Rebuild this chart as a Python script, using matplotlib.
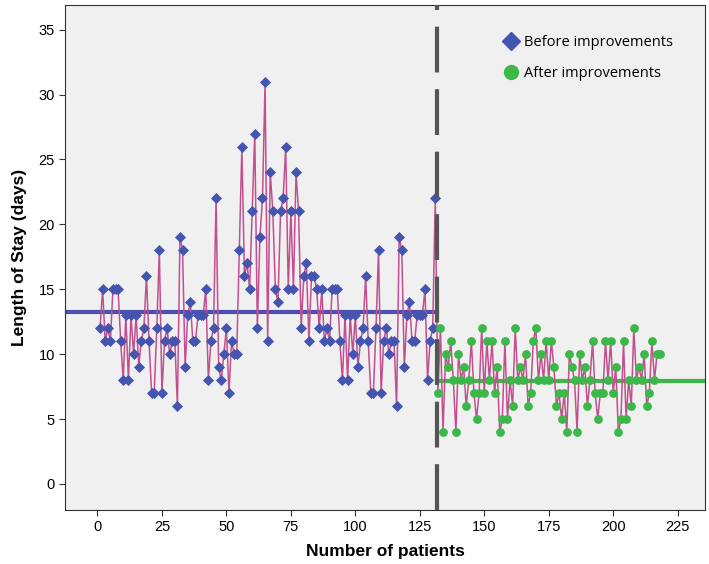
import numpy as np
import matplotlib
matplotlib.use('Agg')
import matplotlib.pyplot as plt
from matplotlib.lines import Line2D

# length of stay per patient
before_los = [12, 15, 11, 12, 11, 15, 15, 15, 11, 8, 13, 8, 13, 10, 13, 9, 11, 12, 16, 11,
              7, 7, 12, 18, 7, 11, 12, 10, 11, 11, 6, 19, 18, 9, 13, 14, 11, 11, 13, 13,
              13, 15, 8, 11, 12, 22, 9, 8, 10, 12, 7, 11, 10, 10, 18, 26, 16, 17, 15, 21,
              27, 12, 19, 22, 31, 11, 24, 21, 15, 14, 21, 22, 26, 15, 21, 15, 24, 21, 12, 16,
              17, 11, 16, 16, 15, 12, 15, 11, 12, 11, 15, 15, 15, 11, 8, 13, 8, 13, 10, 13,
              9, 11, 12, 16, 11, 7, 7, 12, 18, 7, 11, 12, 10, 11, 11, 6, 19, 18, 9, 13,
              14, 11, 11, 13, 13, 13, 15, 8, 11, 12, 22]
after_los = [7, 12, 4, 10, 9, 11, 8, 4, 10, 8, 9, 6, 8, 11, 7, 5, 7, 12, 7, 11,
             8, 11, 7, 9, 4, 5, 11, 5, 8, 6, 12, 8, 9, 8, 10, 6, 7, 11, 12, 8,
             10, 8, 11, 8, 11, 9, 6, 7, 5, 7, 4, 10, 9, 8, 4, 10, 8, 9, 6, 8,
             11, 7, 5, 7, 7, 11, 8, 11, 7, 9, 4, 5, 11, 5, 8, 6, 12, 8, 9, 8,
             10, 6, 7, 11, 8, 10, 10]

before_mean = 13.25
after_mean = 7.9
cutoff = 131.5

x_before = np.arange(1, len(before_los) + 1)
x_after = np.arange(len(before_los) + 1, len(before_los) + len(after_los) + 1)

plt.rcParams['font.family'] = 'Liberation Sans'

fig = plt.figure(figsize=(7.09, 5.64), dpi=100)
ax = fig.add_axes([0.092, 0.096, 0.902, 0.895])
ax.set_facecolor('#f0f0f0')

xmin, xmax = -12.5, 235.5
ax.set_xlim(xmin, xmax)
ax.set_ylim(-2, 36.9)

# mean lines
ax.plot([xmin, cutoff], [before_mean, before_mean], color='#4a4fb0', lw=3, zorder=2)
ax.plot([cutoff, xmax], [after_mean, after_mean], color='#3cb84a', lw=3, zorder=2)

# connecting line through all patients
x_all = np.concatenate([x_before, x_after])
y_all = np.concatenate([before_los, after_los])
ax.plot(x_all, y_all, color='#c2508e', lw=1.1, zorder=3)

ax.scatter(x_before, before_los, marker='D', s=32, color='#4455b0', zorder=4, linewidths=0)
ax.scatter(x_after, after_los, marker='o', s=40, color='#3cb84a', zorder=4, linewidths=0)

ax.axvline(cutoff, color='#555555', lw=3, dashes=(11, 4), zorder=5)

ax.set_xticks(np.arange(0, 226, 25))
ax.set_yticks(np.arange(0, 36, 5))
ax.tick_params(labelsize=10.5, length=4, color='#333333')
for s in ax.spines.values():
    s.set_color('#333333')

ax.set_xlabel('Number of patients', fontsize=12.5, fontweight='bold', labelpad=7)
ax.set_ylabel('Length of Stay (days)', fontsize=12.5, fontweight='bold', labelpad=8)

handles = [Line2D([], [], marker='D', ls='none', color='#4455b0', markersize=9),
           Line2D([], [], marker='o', ls='none', color='#3cb84a', markersize=10)]
ax.legend(handles, ['Before improvements', 'After improvements'], loc='upper right',
          bbox_to_anchor=(0.971, 0.966), frameon=False, handlelength=1.0,
          handletextpad=0.4, labelspacing=1.05,
          prop={'family': 'Open Sans', 'size': 10.5})

fig.savefig('out.png', dpi=100)
